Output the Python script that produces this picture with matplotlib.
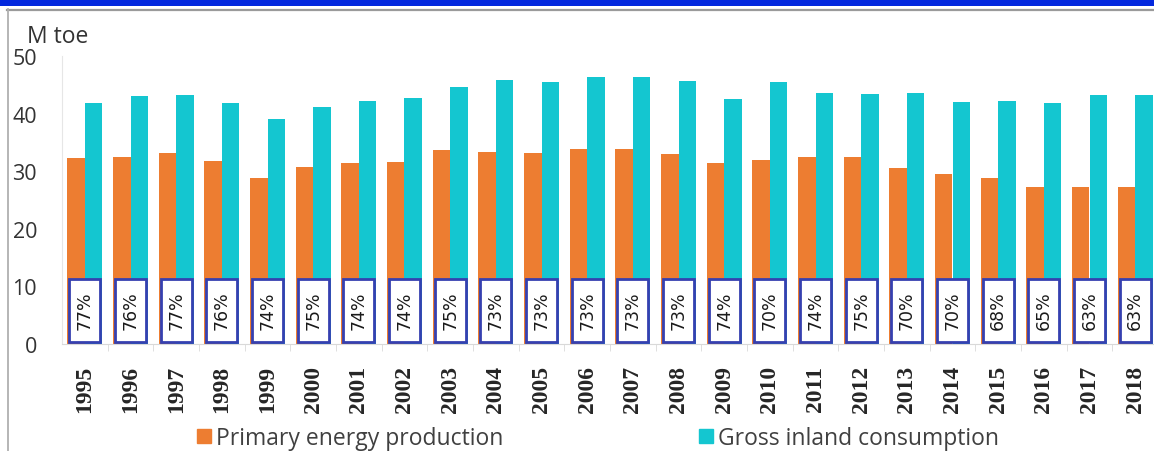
import numpy as np
import matplotlib.pyplot as plt
from matplotlib.patches import Rectangle
from matplotlib.lines import Line2D

years = [str(y) for y in range(1995, 2019)]
production = [32.3, 32.5, 33.2, 31.7, 28.8, 30.8, 31.4, 31.6, 33.6, 33.4, 33.2, 33.8,
              33.8, 33.0, 31.4, 31.9, 32.4, 32.4, 30.5, 29.6, 28.8, 27.2, 27.2, 27.2]
consumption = [41.8, 43.0, 43.2, 41.8, 39.1, 41.2, 42.2, 42.7, 44.7, 45.8, 45.4, 46.4,
               46.3, 45.6, 42.6, 45.4, 43.6, 43.4, 43.5, 42.0, 42.2, 41.8, 43.3, 43.3]
ratio = [77, 76, 77, 76, 74, 75, 74, 74, 75, 73, 73, 73,
         73, 73, 74, 70, 74, 75, 70, 70, 68, 65, 63, 63]

orange = '#ED7D31'
cyan = '#14C6D0'
box_edge = '#3540B0'

W, H = 1154, 452
fig = plt.figure(figsize=(W / 100, H / 100), dpi=100)
ax = fig.add_axes([62 / W, 1 - 345 / H, 1096 / W, 288 / H])

x = np.arange(len(years))
bw = 0.38
ax.bar(x - bw / 2, production, bw, color=orange, zorder=2)
ax.bar(x + bw / 2, consumption, bw, color=cyan, zorder=2)

# boxed share labels sitting on top of the bar bases
for i, r in enumerate(ratio):
    ax.add_patch(Rectangle((i - 0.34, 0.35), 0.68, 10.95, facecolor='white',
                           edgecolor=box_edge, lw=2.0, zorder=3))
    ax.text(i, 5.9, f'{r}%', rotation=90, ha='center', va='center',
            fontsize=12.5, color='#1a1a1a', family='DejaVu Sans', zorder=4)

ax.set_xlim(-0.5, len(years) - 0.5)
ax.set_ylim(0, 50)
ax.set_yticks([0, 10, 20, 30, 40, 50])
ax.set_yticklabels(['0', '10', '20', '30', '40', '50'], family='Open Sans',
                   fontsize=15.5, color='#333333')
ax.tick_params(axis='y', length=0, pad=18)
ax.set_xticks(x)
ax.set_xticklabels(years, rotation=90, family='Liberation Serif', fontweight='bold',
                   fontsize=17, color='#262626')
ax.tick_params(axis='x', length=0, pad=15)
ax.set_xticks(x[:-1] + 0.5, minor=True)
ax.tick_params(axis='x', which='minor', length=5, color='#d9d9d9')

for side in ['top', 'right']:
    ax.spines[side].set_visible(False)
ax.spines['left'].set_color('#e6e6e6')
ax.spines['bottom'].set_color('#d9d9d9')

fig.text(27 / W, 1 - 37 / H, 'M toe', family='Open Sans', fontsize=16.5,
         color='#333333', va='center', ha='left')

# legend entries placed one by one
entries = [('Primary energy production', orange, 197),
           ('Gross inland consumption', cyan, 699)]
for label, col, px in entries:
    h = Line2D([], [], marker='s', linestyle='none', markersize=10,
               markerfacecolor=col, markeredgecolor=col)
    leg = fig.legend(handles=[h], labels=[label], loc='center left',
                     bbox_to_anchor=(px / W, 1 - 439 / H), frameon=False,
                     borderpad=0, borderaxespad=0, handlelength=0.6,
                     handletextpad=0.25, prop={'family': 'Open Sans', 'size': 16.5})
    for t in leg.get_texts():
        t.set_color('#404040')

# frame: blue band on top, grey rules
fig.patches.append(Rectangle((0, 1 - 7 / H), 1, 7 / H, transform=fig.transFigure,
                             facecolor='#0328DE', edgecolor='none'))
fig.lines.append(Line2D([7 / W, 1], [1 - 10.5 / H, 1 - 10.5 / H],
                        transform=fig.transFigure, color='#9a9a9a', lw=1.6))
fig.lines.append(Line2D([7.5 / W, 7.5 / W], [0, 1 - 10 / H],
                        transform=fig.transFigure, color='#b0b0b0', lw=1.3))

fig.savefig('out.png', dpi=100)
